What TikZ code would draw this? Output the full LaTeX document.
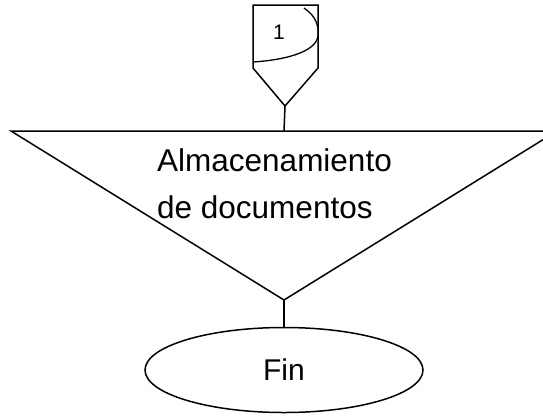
\documentclass[tikz,border=0pt]{standalone}
\usepackage{fontspec}
\setmainfont{Liberation Sans}
\usetikzlibrary{shapes.geometric}
\tikzset{
  shape line/.style={line width=1.5pt, line join=miter},
  conn line/.style={line width=1.5pt},
  bigtext/.style={inner sep=0pt, font=\fontsize{31.5}{38}\selectfont},
  fintext/.style={inner sep=0pt, font=\fontsize{30}{36}\selectfont},
  smalltext/.style={inner sep=0pt, font=\fontsize{21}{24}\selectfont},
}
\begin{document}
\begin{tikzpicture}[x=1pt,y=-1pt]
\useasboundingbox (0,0) rectangle (543,416);
% off-page connector
\draw[shape line] (253,68) -- (253,5) -- (318,5) -- (318,68) -- (285,106) -- cycle;
\draw[line width=1.3pt] (304,8) .. controls (316,16) and (319,26) .. (318,36)
   .. controls (316,52) and (285,60) .. (253,62);
\node[smalltext] (c1) at (279,32) {1};
\coordinate (cbot) at (285,106);
% storage triangle
\coordinate (ttop) at (284,131);
\coordinate (tbot) at (284,300);
\draw[shape line] (11,131) -- (557,131) -- (tbot) -- cycle;
\node[bigtext, anchor=base west] (t1) at (157,171) {Almacenamiento};
\node[bigtext, anchor=base west] (t2) at (157,218) {de documentos};
% end ellipse
\node[draw, ellipse, line width=1.5pt, minimum width=278pt, minimum height=85pt,
      inner sep=0pt] (fin) at (284,370) {};
\node[fintext, anchor=base] (fint) at (284,380) {Fin};
% connectors
\draw[conn line] (cbot) -- (ttop);
\draw[conn line] (tbot) -- (fin.north);
\end{tikzpicture}
\end{document}
